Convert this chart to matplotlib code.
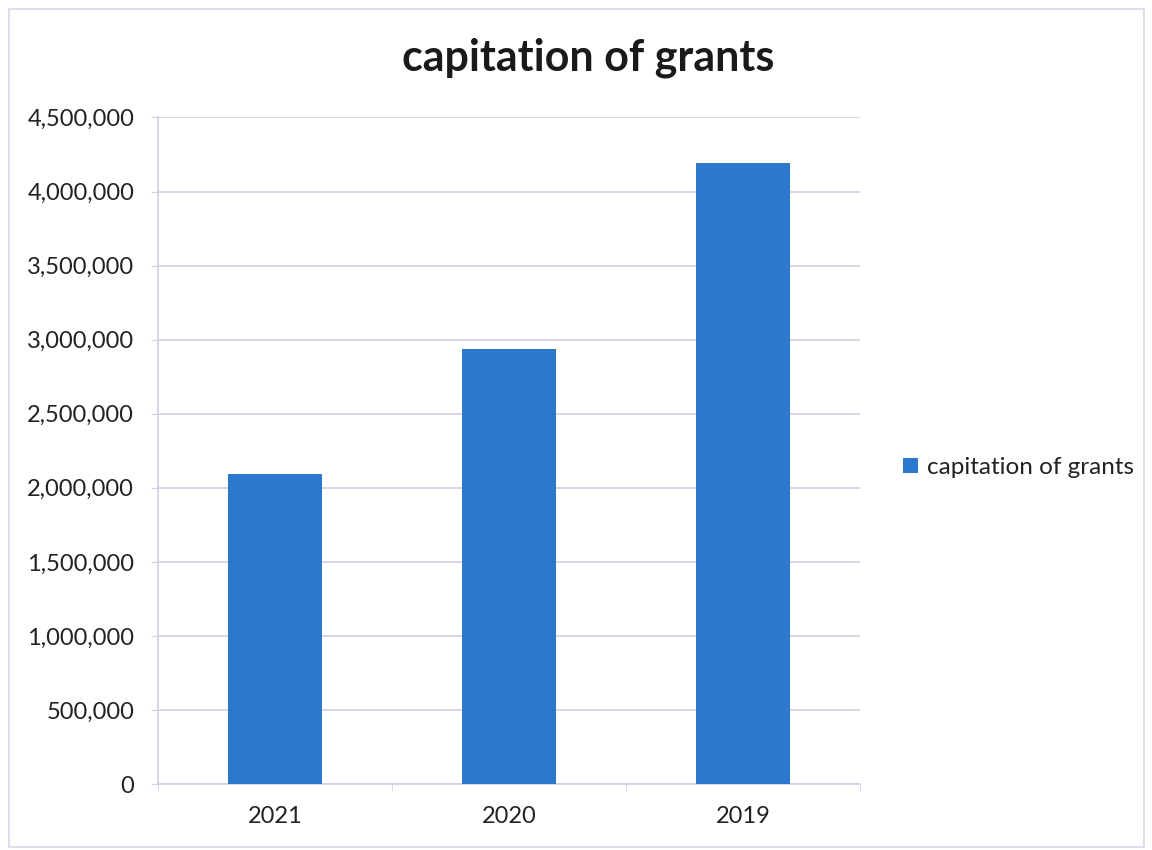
import matplotlib.pyplot as plt
from matplotlib.patches import Rectangle
from matplotlib.ticker import FuncFormatter, MultipleLocator

years = ["2021", "2020", "2019"]
grants = [2090000, 2940000, 4190000]
series_name = "capitation of grants"

plt.rcParams["font.family"] = ["Lato", "DejaVu Sans"]

fig = plt.figure(figsize=(11.52, 8.5), dpi=100)
ax = fig.add_axes([0.137, 0.0776, 0.6095, 0.7842])

x = range(len(years))
bars = ax.bar(x, grants, width=0.4, color="#2b78cc", label=series_name, zorder=3)

ax.set_xlim(-0.5, len(years) - 0.5)
ax.set_ylim(0, 4500000)
ax.yaxis.set_major_locator(MultipleLocator(500000))
ax.yaxis.set_major_formatter(FuncFormatter(lambda v, _: f"{int(v):,}"))
ax.set_xticks(list(x))
ax.set_xticklabels(years)

grid_col = "#d8cce6"
ax.grid(axis="y", color=grid_col, linewidth=1.2, zorder=0)
for side in ["top", "right"]:
    ax.spines[side].set_visible(False)
ax.spines["left"].set_color(grid_col)
ax.spines["bottom"].set_color(grid_col)
ax.spines["left"].set_linewidth(1.2)
ax.spines["bottom"].set_linewidth(1.2)

ax.tick_params(axis="y", length=5, color=grid_col, labelsize=17, pad=12, labelcolor="#222222")
ax.tick_params(axis="x", length=0, labelsize=17, pad=16, labelcolor="#222222")
# boundary ticks between categories
ax.set_xticks([-0.5, 0.5, 1.5, 2.5], minor=True)
ax.tick_params(axis="x", which="minor", length=5, color=grid_col)

fig.text(0.511, 0.932, series_name, ha="center", va="center",
         fontsize=31, fontweight="bold", color="#1a1a1a")

leg = fig.legend(handles=[bars], labels=[series_name], loc="center left",
                 bbox_to_anchor=(0.765, 0.45), frameon=False, fontsize=17.5,
                 handlelength=0.6, handleheight=0.6, handletextpad=0.4)
for t in leg.get_texts():
    t.set_color("#222222")

# light border round the whole chart
fig.patches.append(Rectangle((0.008, 0.004), 0.985, 0.986, transform=fig.transFigure,
                             fill=False, edgecolor="#dcd6e6", linewidth=1.2))

fig.savefig("out.png", dpi=100)
